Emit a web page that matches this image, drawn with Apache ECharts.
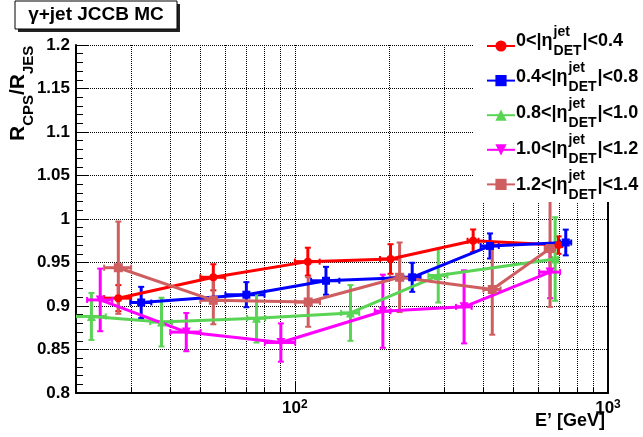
<!DOCTYPE html>
<html>
<head>
<meta charset="utf-8">
<script src="https://cdn.jsdelivr.net/npm/echarts@6/dist/echarts.min.js"></script>
<style>
html, body { margin: 0; padding: 0; background: #fff; }
#main { width: 643px; height: 437px; }
</style>
</head>
<body>
<div id="main"></div>
<script>
var chartDom = document.getElementById('main');
var myChart = echarts.init(chartDom);
var option;

const FONT = '"Liberation Sans", Arial, Helvetica, sans-serif';

// E' [GeV], ratio, half x error, half y error for each eta bin
const redX = [27.3, 54.9, 110, 202, 371, 695];
const redY = [0.909, 0.933, 0.951, 0.954, 0.975, 0.970];
const redEX = [2.7, 5, 10, 15, 15, 20];
const redEY = [0.015, 0.015, 0.016, 0.017, 0.013, 0.010];

const blueX = [32.3, 70, 125.7, 237, 420, 733];
const blueY = [0.904, 0.913, 0.929, 0.933, 0.969, 0.973];
const blueEX = [2.5, 10, 13, 15, 28, 30];
const blueEY = [0.018, 0.0144, 0.016, 0.0167, 0.0144, 0.0148];

const greenX = [22.4, 37.5, 75.4, 150.5, 287, 678];
const greenY = [0.888, 0.8815, 0.886, 0.892, 0.935, 0.954];
const greenEX = [2.5, 3, 5, 10, 20, 15];
const greenEY = [0.027, 0.028, 0.028, 0.032, 0.031, 0.048];

const magentaX = [23.9, 45, 90.2, 191, 347, 653];
const magentaY = [0.907, 0.870, 0.858, 0.894, 0.899, 0.939];
const magentaEX = [2.2, 5, 10, 11, 20, 50];
const magentaEY = [0.036, 0.022, 0.022, 0.042, 0.042, 0.03];

const brownX = [27.3, 54.9, 110.3, 216, 427, 653];
const brownY = [0.944, 0.9065, 0.9046, 0.933, 0.919, 0.966];
const brownEX = [2.7, 5, 10, 15, 27, 25];
const brownEY = [0.053, 0.0275, 0.0285, 0.040, 0.052, 0.067];

const legendPre = ['0<|\u03b7', '0.4<|\u03b7', '0.8<|\u03b7', '1.0<|\u03b7', '1.2<|\u03b7'];
const legendPost = ['|<0.4', '|<0.8', '|<1.0', '|<1.2', '|<1.4'];

const xTickValues = [30, 40, 50, 60, 70, 80, 90, 100, 200, 300, 400, 500, 600, 700, 800, 900];
const xMajorTicks = [100];
const xLabelValues = [100, 1000];

const seriesNames = ['bin1', 'bin2', 'bin3', 'bin4', 'bin5'];
const colors = ['#ff0000', '#0000ff', '#59d454', '#ff00ff', '#cf5e61'];
const symbols = ['circle', 'rect', 'triangle', 'triangle', 'rect'];
const symbolRotates = [0, 0, 0, 180, 0];
const symbolSizes = [8, 8, 9, 9, 9];

const allX = [redX, blueX, greenX, magentaX, brownX];
const allY = [redY, blueY, greenY, magentaY, brownY];
const allEX = [redEX, blueEX, greenEX, magentaEX, brownEX];
const allEY = [redEY, blueEY, greenEY, magentaEY, brownEY];

function errorSeries(k) {
  const color = colors[k];
  return {
    type: 'custom',
    data: allX[k].map((x, i) => [x, allY[k][i], allEX[k][i], allEY[k][i]]),
    clip: true,
    z: 2,
    renderItem: function (params, api) {
      const x = api.value(0), y = api.value(1), dx = api.value(2), dy = api.value(3);
      const c = api.coord([x, y]);
      const l = api.coord([x - dx, y]);
      const r = api.coord([x + dx, y]);
      const t = api.coord([x, y + dy]);
      const b = api.coord([x, y - dy]);
      const st = { stroke: color, lineWidth: 3 };
      const cs = { stroke: color, lineWidth: 2 };
      const cap = 3;
      return {
        type: 'group',
        children: [
          { type: 'line', shape: { x1: l[0], y1: c[1], x2: r[0], y2: c[1] }, style: st },
          { type: 'line', shape: { x1: c[0], y1: t[1], x2: c[0], y2: b[1] }, style: st },
          { type: 'line', shape: { x1: c[0] - cap, y1: t[1], x2: c[0] + cap, y2: t[1] }, style: cs },
          { type: 'line', shape: { x1: c[0] - cap, y1: b[1], x2: c[0] + cap, y2: b[1] }, style: cs },
          { type: 'line', shape: { x1: l[0], y1: c[1] - cap, x2: l[0], y2: c[1] + cap }, style: cs },
          { type: 'line', shape: { x1: r[0], y1: c[1] - cap, x2: r[0], y2: c[1] + cap }, style: cs }
        ]
      };
    }
  };
}

function lineSeries(k) {
  return {
    name: seriesNames[k],
    type: 'line',
    data: allX[k].map((x, i) => [x, allY[k][i]]),
    symbol: symbols[k],
    symbolSize: symbolSizes[k],
    symbolRotate: symbolRotates[k],
    showSymbol: true,
    itemStyle: { color: colors[k] },
    lineStyle: { color: colors[k], width: 3 },
    clip: true,
    z: 2
  };
}

function getSeries() {
  let out = [];
  for (let k = 0; k < 5; k++) {
    out.push(errorSeries(k));
    out.push(lineSeries(k));
  }
  return out;
}

const mctx = document.createElement('canvas').getContext('2d');
function textWidth(t, size) {
  mctx.font = 'bold ' + size + 'px ' + FONT;
  return mctx.measureText(t).width;
}

function legendTexts() {
  const els = [];
  const mainSize = 18, smallSize = 14;
  for (let i = 0; i < 5; i++) {
    const yc = 41 + 36 * i;
    const x0 = 516;
    const w1 = textWidth(legendPre[i], mainSize);
    const ws = Math.max(textWidth('jet', smallSize), textWidth('DET', smallSize));
    const base = { fontFamily: FONT, fontWeight: 'bold', fill: '#000', verticalAlign: 'middle', align: 'left' };
    els.push({ type: 'text', x: x0, y: yc, z: 10, style: Object.assign({ text: legendPre[i], fontSize: mainSize }, base) });
    els.push({ type: 'text', x: x0 + w1 + 1, y: yc - 9, z: 10, style: Object.assign({ text: 'jet', fontSize: smallSize }, base) });
    els.push({ type: 'text', x: x0 + w1 + 1, y: yc + 10, z: 10, style: Object.assign({ text: 'DET', fontSize: smallSize }, base) });
    els.push({ type: 'text', x: x0 + w1 + 2 + ws, y: yc, z: 10, style: Object.assign({ text: legendPost[i], fontSize: mainSize }, base) });
  }
  return els;
}

// rotated y-axis title, written bottom to top
function yTitleTexts() {
  const parts = [
    { t: 'R', size: 21, x: 18 },
    { t: 'CPS', size: 15, x: 29 },
    { t: '/R', size: 21, x: 18 },
    { t: 'JES', size: 15, x: 29 }
  ];
  let y = 141;
  const els = [];
  parts.forEach(p => {
    els.push({
      type: 'text', x: p.x, y: y, rotation: Math.PI / 2, z: 7,
      style: { text: p.t, fontFamily: FONT, fontWeight: 'bold', fontSize: p.size, fill: '#000', align: 'left', verticalAlign: 'middle' }
    });
    y -= textWidth(p.t, p.size);
  });
  return els;
}

option = {
  animation: false,
  backgroundColor: '#fff',
  grid: { left: 76, right: 35, top: 45, bottom: 44, containLabel: false },
  legend: {
    orient: 'vertical',
    left: 481,
    top: 34,
    itemWidth: 28,
    itemHeight: 14,
    itemGap: 22,
    selectedMode: false,
    data: seriesNames,
    formatter: function () { return ''; },
    z: 6
  },
  xAxis: [
    {
      type: 'log',
      logBase: 10,
      min: 20,
      max: 1000,
      axisLine: { show: true, onZero: false, lineStyle: { color: '#000', width: 2 } },
      axisTick: { show: true, inside: true, length: 6, customValues: xTickValues, lineStyle: { color: '#000', width: 1 } },
      minorTick: { show: false },
      axisLabel: {
        show: true,
        customValues: xLabelValues,
        margin: 6,
        color: '#000',
        formatter: function (v) { return '{b|10}{s|' + Math.round(Math.log10(v)) + '}'; },
        rich: {
          b: { fontFamily: FONT, fontWeight: 'bold', fontSize: 17, lineHeight: 18, verticalAlign: 'bottom', color: '#000' },
          s: { fontFamily: FONT, fontWeight: 'bold', fontSize: 12, lineHeight: 6, verticalAlign: 'top', color: '#000' }
        }
      },
      splitLine: { show: true, lineStyle: { color: '#000', type: 'dotted', width: 1 } }
    },
    {
      type: 'log',
      logBase: 10,
      min: 20,
      max: 1000,
      position: 'bottom',
      axisLine: { show: false, onZero: false },
      axisTick: { show: true, inside: true, length: 11, customValues: xMajorTicks, lineStyle: { color: '#000', width: 1 } },
      axisLabel: { show: false },
      splitLine: { show: false }
    }
  ],
  yAxis: [
    {
      type: 'value',
      min: 0.8,
      max: 1.2,
      interval: 0.05,
      axisLine: { show: true, lineStyle: { color: '#000', width: 2 } },
      axisTick: { show: true, inside: true, length: 13, lineStyle: { color: '#000', width: 1 } },
      minorTick: { show: true, splitNumber: 5, length: 7, lineStyle: { color: '#000', width: 1 } },
      axisLabel: { color: '#000', fontFamily: FONT, fontWeight: 'bold', fontSize: 17, margin: 6 },
      splitLine: { show: true, lineStyle: { color: '#000', type: 'dotted', width: 1 } }
    },
    {
      type: 'value',
      min: 0.8,
      max: 1.2,
      position: 'right',
      axisLine: { show: true, lineStyle: { color: '#000', width: 2 } },
      axisTick: { show: false },
      axisLabel: { show: false },
      splitLine: { show: false }
    }
  ],
  graphic: [
    // legend background
    { type: 'rect', shape: { x: 473, y: 22, width: 170, height: 180 }, style: { fill: '#fff' }, z: 5 },
    // title box with shadow
    { type: 'rect', shape: { x: 18, y: 4, width: 162, height: 28 }, style: { fill: '#222' }, z: 5 },
    { type: 'rect', shape: { x: 15, y: 1, width: 162, height: 28 }, style: { fill: '#fff', stroke: '#000', lineWidth: 1 }, z: 6 },
    { type: 'text', x: 96, y: 15, z: 7, style: { text: '\u03b3+jet JCCB MC', fontFamily: FONT, fontWeight: 'bold', fontSize: 19, fill: '#000', align: 'center', verticalAlign: 'middle' } },
    // x axis title
    { type: 'text', x: 605, y: 421, z: 7, style: { text: 'E\u2019 [GeV]', fontFamily: FONT, fontWeight: 'bold', fontSize: 18, fill: '#000', align: 'right', verticalAlign: 'middle' } }
  ].concat(yTitleTexts()).concat(legendTexts()),
  series: getSeries()
};

option && myChart.setOption(option);
</script>
</body>
</html>
